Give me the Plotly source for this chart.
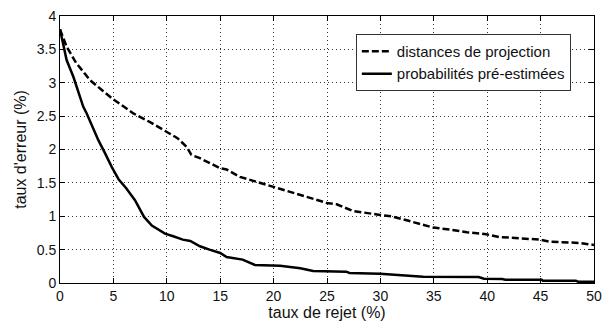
import plotly.graph_objects as go

# distances de projection (dashed)
x_dist = [0, 0.62, 1.5, 2.81, 4.0, 5.0, 6.0, 6.87, 8.43, 10.0, 11.0, 11.86, 12.3, 13.1,
          14.0, 14.98, 15.6, 16.85, 18.1, 19.97, 21.2, 22.47, 23.7, 24.97, 25.9, 27.4,
          29.96, 31.0, 32.46, 34.95, 36.5, 38.1, 39.9, 41.1, 43.0, 44.9, 45.8, 47.2, 48.6, 50.0]
y_dist = [3.80, 3.54, 3.30, 3.04, 2.88, 2.75, 2.64, 2.54, 2.41, 2.27, 2.17, 2.04, 1.92, 1.87,
          1.80, 1.72, 1.70, 1.59, 1.53, 1.44, 1.38, 1.32, 1.26, 1.20, 1.18, 1.08,
          1.02, 1.00, 0.94, 0.83, 0.80, 0.76, 0.73, 0.69, 0.67, 0.65, 0.62, 0.61, 0.60, 0.57]

# probabilités pré-estimées (solid)
x_prob = [0, 0.62, 1.25, 2.18, 2.5, 3.28, 3.59, 4.2, 4.84, 5.5, 6.2, 7.02, 7.87, 8.6, 9.83,
          10.6, 11.5, 12.2, 13.1, 14.0, 15.0, 15.6, 17.1, 18.25, 20.6, 22.5, 23.7, 26.8,
          27.1, 29.96, 31.8, 34.0, 39.2, 39.7, 41.4, 41.7, 45.1, 45.2, 48.3, 48.5, 50.0]
y_prob = [3.80, 3.34, 3.09, 2.64, 2.54, 2.24, 2.14, 1.95, 1.74, 1.55, 1.42, 1.24, 0.99, 0.86, 0.74,
          0.70, 0.65, 0.63, 0.55, 0.50, 0.45, 0.39, 0.35, 0.27, 0.26, 0.22, 0.18, 0.17,
          0.15, 0.14, 0.115, 0.095, 0.09, 0.065, 0.06, 0.05, 0.05, 0.035, 0.035, 0.02, 0.02]

x_ticks = [0, 5, 10, 15, 20, 25, 30, 35, 40, 45, 50]
y_ticks = [0, 0.5, 1, 1.5, 2, 2.5, 3, 3.5, 4]

font = "Liberation Sans, Arial, sans-serif"

fig = go.Figure()
fig.add_trace(go.Scatter(x=x_dist, y=y_dist, mode="lines", name="distances de projection",
                         line=dict(color="black", width=2.5, dash="7px,3px")))
fig.add_trace(go.Scatter(x=x_prob, y=y_prob, mode="lines", name="probabilités pré-estimées",
                         line=dict(color="black", width=2.5)))

axis_common = dict(showline=True, linecolor="black", linewidth=1, mirror="ticks",
                   ticks="inside", ticklen=5, tickcolor="black", tickwidth=1,
                   showgrid=True, gridcolor="#333333", griddash="1px,3px", gridwidth=1,
                   zeroline=False, automargin=False, ticklabeloverflow="allow",
                   tickfont=dict(family=font, size=14, color="#111"))

# the page body adds an 8px offset, so the figure is 8px smaller than the window
fig.update_layout(
    width=605, height=316,
    margin=dict(l=52, r=19, t=8, b=41),
    paper_bgcolor="white", plot_bgcolor="white",
    xaxis=dict(range=[0, 50], tickvals=x_ticks, ticktext=[str(v) for v in x_ticks],
               title=dict(text="taux de rejet (%)", font=dict(family=font, size=16, color="#111"),
                          standoff=2),
               **axis_common),
    yaxis=dict(range=[0, 4], tickvals=y_ticks, ticktext=[f"{v:g}" for v in y_ticks],
               title=dict(text="taux d'erreur (%)", font=dict(family=font, size=16, color="#111"),
                          standoff=6),
               **axis_common),
    legend=dict(x=0.554, y=0.933, xanchor="left", yanchor="top",
                bgcolor="white", bordercolor="#333", borderwidth=1,
                font=dict(family=font, size=15, color="#111"),
                tracegroupgap=0, itemwidth=30),
    showlegend=True,
)

fig.write_html("out.html")
